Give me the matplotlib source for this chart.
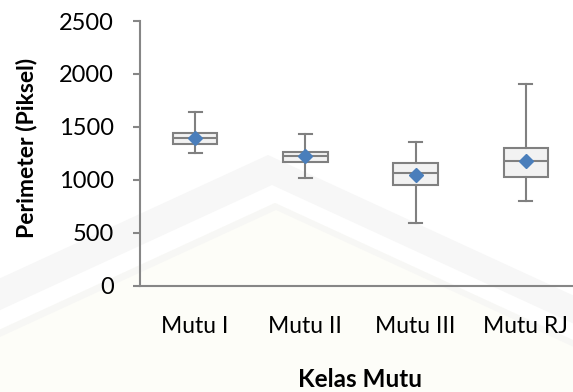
import matplotlib.pyplot as plt
from matplotlib.patches import Polygon

plt.rcParams['font.family'] = ['Lato', 'DejaVu Sans']

# Perimeter per quality class (pixels)
kelas = ['Mutu I', 'Mutu II', 'Mutu III', 'Mutu RJ']
minimum = [1256, 1014, 592, 800]
kuartil1 = [1335, 1168, 951, 1030]
median = [1398, 1222, 1062, 1175]
kuartil3 = [1442, 1266, 1162, 1298]
maksimum = [1638, 1433, 1354, 1908]
rata2 = [1398, 1222, 1049, 1175]
yticks = [0, 500, 1000, 1500, 2000, 2500]

W, H = 573, 392
fig = plt.figure(figsize=(W / 100, H / 100), dpi=100)
fig.patch.set_facecolor('white')


# faint repository watermark behind the chart
def chevron(peak_x, peak_y, slope):
    return [(0, peak_y + slope * peak_x), (peak_x, peak_y), (W, peak_y + slope * (W - peak_x))]


def to_fig(pts):
    return [(x / W, 1 - y / H) for x, y in pts]


def band(upper, lower, color):
    fig.add_artist(Polygon(to_fig(upper + lower[::-1]), closed=True,
                           transform=fig.transFigure, fc=color, ec='none', zorder=0))


band(chevron(275, 203, 0.46), [(0, H), (W / 2, H), (W, H)], '#fdfdf8')
band(chevron(268, 155, 0.46), chevron(272, 185, 0.46), '#f7f7f7')
band(chevron(275, 203, 0.46), chevron(276, 210, 0.46), '#f7f7f5')

ax = fig.add_axes([140 / W, 1 - 285.7 / H, 441 / W, 264.7 / H])
ax.set_facecolor('none')

stats = [dict(label=k, whislo=lo, q1=a, med=m, q3=b, whishi=hi, mean=mu)
         for k, lo, a, m, b, hi, mu in zip(kelas, minimum, kuartil1, median, kuartil3, maksimum, rata2)]

grey = '#808080'
ax.bxp(stats, positions=range(1, len(kelas) + 1), widths=0.405, capwidths=0.12,
       showmeans=True, showfliers=False, patch_artist=True,
       boxprops=dict(facecolor='#f2f2f2', edgecolor=grey, linewidth=1.5),
       medianprops=dict(color=grey, linewidth=1.5),
       whiskerprops=dict(color=grey, linewidth=1.5),
       capprops=dict(color=grey, linewidth=1.5),
       meanprops=dict(marker='D', markersize=7.5, markerfacecolor='#4a7ebb',
                      markeredgecolor='#4a7ebb'))

ax.set_xlim(0.5, 4.5)
ax.set_ylim(0, 2500)
ax.set_yticks(yticks)
ax.set_xticks(range(1, len(kelas) + 1))
ax.set_xticklabels(kelas)

for side in ['top', 'right']:
    ax.spines[side].set_visible(False)
for side in ['left', 'bottom']:
    ax.spines[side].set_color('#868686')
    ax.spines[side].set_linewidth(1.5)

ax.tick_params(axis='y', direction='out', length=5, width=1.5, color='#868686',
               pad=14, labelsize=17, labelcolor='black')
ax.tick_params(axis='x', length=0, pad=22, labelsize=16.5, labelcolor='black')

ax.set_xlabel('Kelas Mutu', fontsize=17.5, fontweight='bold', va='center')
ax.xaxis.set_label_coords(0.5, -0.356)
ax.set_ylabel('Perimeter (Piksel)', fontsize=16.5, fontweight='bold', va='center', ha='center')
ax.yaxis.set_label_coords(-0.2585, 0.52)

plt.savefig('out.png', dpi=100)
